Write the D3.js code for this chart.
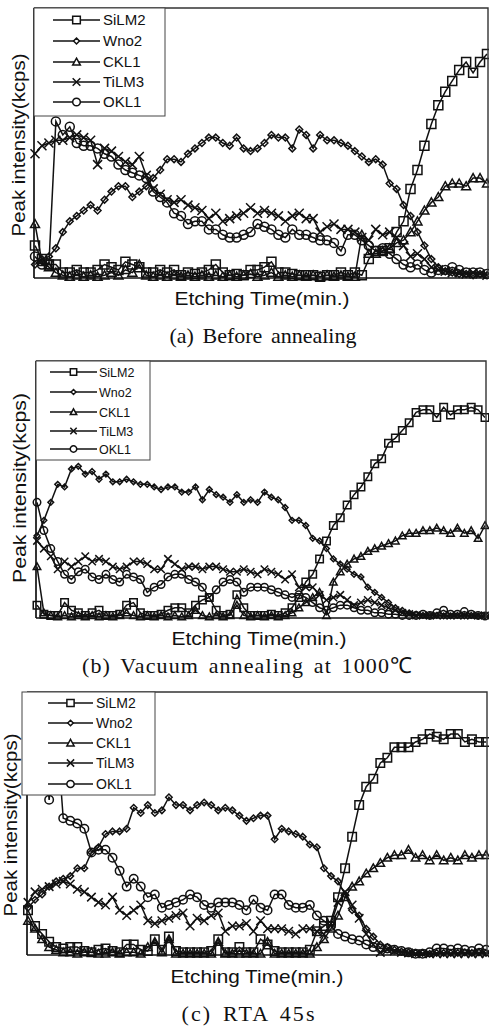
<!DOCTYPE html>
<html><head><meta charset="utf-8">
<script src="https://cdn.jsdelivr.net/npm/d3@7"></script>
<style>body{margin:0;background:#fff} svg{display:block}</style>
</head><body>
<svg id="chart" width="489" height="1027"></svg>
<script>
// ---------- data ----------
const seriesNames = ["SiLM2", "Wno2", "CKL1", "TiLM3", "OKL1"];
const markerTypes = ["square", "diamond", "triangle", "cross", "circle"];
const xLabel = "Etching Time(min.)";
const yLabel = "Peak intensity(kcps)";
const captions = ["(a) Before annealing", "(b) Vacuum annealing at 1000\u2103", "(c) RTA 45s"];

// (a) Before annealing
const a_SiLM2 = [12,7,5,5,2,2,3,2,2,3,5,4,3,6,5,4,2,2,3,2,3,1,2,1.5,2,3,5,2,1,1.5,1,3,3,4,6,2,2,1.5,1,1,1,0.5,1,1,2,1,2,1,7,10,10,11,17,21,33,40,49,57,64,69,73,77,80,76,80,83];
const a_Wno2  = [5,7,8,11,17,21,23,25,27,25,29,32,34,34,30,32,34,37,40,44,44,43,46,48,50,52,52,50,49,52,48,47,48,50,53,52,52,48,55,53,48,53,51,51,50,49,47,45,43,44,42,35,33,27,23,17,12,7,4,2.5,2,1.5,1.5,1,1.5,1];
const a_CKL1  = [20,6,4,2,1,0.5,1,0.5,1,0.5,1,2,1,3,2,5,1,0.5,1,0.5,1,0.5,1,0.5,1,0.5,1,0.5,1,0.5,1,1.5,0.5,1,2,0.5,1,0.5,1,0.5,1,0.5,1,0.5,1,0.5,0.5,16,9,9,10,11,13,14,17,21,25,28,30,34,35,35,34,37,37,35];
const a_TiLM3 = [46,49,50,51,51,52,53,52,51,42,48,47,45,43,42,45,38,33,31,29,28,29,27,26,25,22,24,21,22,23,24,26,24,25,24,23,21,23,24,22,22,17,19,20,18,18,17,15,14,18,16,17,15,12,8,9,7,4,3,2.5,2,2,1.5,2,1.5,1];
const a_OKL1  = [8,5,5,58,53,56,50,49,49,48,46,45,42,40,39,38,37,32,30,28,24,23,20,21,21,18,18,16,15,15,16,17,20,19,18,16,15,18,16,16,15,14,14,13,10,16,16,14,12,10,11,9,7,5,4,5,3,2,3,3,4,3,2,2,2,1.5];

// (b) Vacuum annealing at 1000C
const b_SiLM2 = [5,1.5,1,1,6,3,2,1,2,3,1,1,1.5,5,6,2,1,1,1.5,3,4,4,2,5,7,8,3,1,1.5,9,4,1,1,1,1.5,1,2,4,8,14,17,23,30,36,39,44,48,51,55,60,62,68,70,73,76,80,81,81,78,82,79,81,81,82,81,78];
const b_Wno2  = [32,38,45,52,51,58,59,56,57,54,56,53,53,54,53,52,52,51,50,51,51,49,49,51,46,50,48,47,45,48,45,46,45,49,47,46,43,38,38,36,31,30,27,23,21,19,17,16,12,10,8,6,4,3,2,1.5,1,1,1,0.8,0.8,1,0.8,1,0.8,0.8];
const b_CKL1  = [20,2,1,0.5,1,0.5,1,0.5,1,0.5,1,0.5,1,2,1,0.5,1,0.5,1,0.5,1,0.5,1,3,1,0.5,1,0.5,1,5,1,0.5,1,0.5,1,0.5,1,2,4,6,8,10,1,14,18,21,23,24,26,27,28,29,30,32,33,33,34,34,35,34,33,35,33,34,31,36];
const b_TiLM3 = [30,27,24,19,22,20,22,24,22,23,22,20,19,20,22,22,21,19,19,23,21,19,20,20,19,20,20,19,18,18,19,18,17,19,18,17,15,17,12,12,12,9,7,8,9,7,5,6,7,6,5,4,3,2,1.5,1,1,1,1,1,1,1,1,1,1,1];
const b_OKL1  = [45,34,27,22,17,15,18,19,16,15,17,15,14,17,16,15,10,12,13,16,17,17,15,14,12,8,11,14,15,14,10,12,12,12,11,10,9,8,9,8,6,4,3,4,5,5,4,3,3,2,2,1.5,1.5,1,1,1,1.5,1,2,3,1.5,1.5,2.5,1.5,1,0.8];

// (c) RTA 45s
const c_SiLM2 = [17,11,8,5,3,2.5,3,3,1.5,1,2,2.5,1.5,1,4,4,2,1.5,6,2,7,1.5,1,1,1,1,1.5,6,1,1,3,1,1,6,4,1.5,1,1,1,1,2,9,11,13,22,33,45,57,64,67,73,75,79,79,79,81,82,84,83,82,84,84,81,82,81,81];
const c_Wno2  = [18,21,23,26,28,29,30,33,33,39,41,46,47,47,48,56,54,57,54,55,60,57,57,55,57,58,57,55,56,55,53,51,52,53,53,44,48,47,46,45,42,41,33,30,28,23,17,15,10,7,4,3,2,1.3,1,0.8,0.8,0.5,0.8,0.8,0.8,0.8,1,0.8,1,0.8];
const c_CKL1  = [13,10,6,3,2,1,1,0.5,1,1,0.5,0.5,1,0.5,1,1,0.5,3,5,1,6,0.5,0.5,0.5,0.5,0.5,0.5,5,0.5,0.5,0.5,0.5,0.5,0.5,5,0.5,0.5,0.5,0.5,0.5,0.5,3,6,10,15,22,26,28,31,33,35,37,38,38,40,37,38,36,38,36,37,36,38,37,38,38];
const c_TiLM3 = [20,24,25,26,27,28,27,25,24,22,20,19,22,17,15,17,19,13,12,13,14,15,16,11,14,13,15,16,9,11,11,12,9,13,10,10,10,9,8,10,10,9,8,12,20,24,19,14,8,4,1,2,1.5,1,0.8,0.5,0.5,0.5,0.5,0.5,0.5,0.5,0.5,0.5,0.5,0.5];
const c_OKL1  = [88,92,90,59,88,52,51,50,48,39,40,40,37,32,26,29,26,22,23,18,19,20,21,23,22,19,18,20,20,20,19,17,21,18,17,23,23,19,18,18,19,15,13,11,8,7,6,5.5,4,3,2.5,2.5,2,1.5,1,0.5,0.5,1,2.5,2.5,2,2.5,2,1.5,2.5,2];

const panelData = [
  [a_SiLM2, a_Wno2, a_CKL1, a_TiLM3, a_OKL1],
  [b_SiLM2, b_Wno2, b_CKL1, b_TiLM3, b_OKL1],
  [c_SiLM2, c_Wno2, c_CKL1, c_TiLM3, c_OKL1]
];

// ---------- layout ----------
const layout = [
  {left:34, right:488, top:8, bottom:278, ms:9,
   leg:{x:34, y:8, w:131, h:108, rows:[20,41,62,82,102], lx1:53, lx2:100, tx:103, fs:15},
   yl:{x:19, cy:145, len:183}, xl:{cx:262, y:305, len:175},
   cap:{cx:263, y:343, len:187}},
  {left:36, right:486, top:361, bottom:618, ms:7.5,
   leg:{x:36, y:361, w:114, h:99, rows:[372,392,412,431,449], lx1:50, lx2:97, tx:99, fs:12.5},
   yl:{x:20, cy:488, len:190}, xl:{cx:259, y:645, len:175},
   cap:{cx:247, y:673, len:330}},
  {left:27, right:487, top:692, bottom:955, ms:8.5,
   leg:{x:22, y:692, w:133, h:103, rows:[703,723,743,763,784], lx1:48, lx2:93, tx:96, fs:14},
   yl:{x:11, cy:825, len:183}, xl:{cx:257, y:983, len:173},
   cap:{cx:248, y:1021, len:133}}
];

const svg = d3.select("#chart");
const ink = "#111";
const sw = 1.5;

function markerPath(type, s) {
  const h = s / 2;
  switch (type) {
    case "square": return `M${-h},${-h}H${h}V${h}H${-h}Z`;
    case "diamond": { const d = s * 0.38; return `M0,${-d}L${d},0L0,${d}L${-d},0Z`; }
    case "triangle": return `M0,${-h}L${h},${h*0.8}L${-h},${h*0.8}Z`;
    case "cross": return `M${-h},${-h}L${h},${h}M${h},${-h}L${-h},${h}`;
    case "circle": return d3.arc()({innerRadius:0, outerRadius:h, startAngle:0, endAngle:2*Math.PI});
  }
}

layout.forEach((L, p) => {
  const data = panelData[p];
  const n = data[0].length;
  const x = d3.scaleLinear().domain([0, n - 1]).range([L.left + 1, L.right - 1]);
  const y = d3.scaleLinear().domain([0, 100]).range([L.bottom, L.top]);
  const g = svg.append("g");
  const clipId = "clip" + p;
  svg.append("clipPath").attr("id", clipId).append("rect")
    .attr("x", L.left - 6).attr("y", L.top).attr("width", L.right - L.left + 12).attr("height", L.bottom - L.top + 6);
  const plot = g.append("g").attr("clip-path", `url(#${clipId})`);

  const line = d3.line().x((d, i) => x(i)).y(d => y(d));
  data.forEach((vals, s) => {
    const sg = plot.append("g");
    sg.append("path").attr("d", line(vals)).attr("fill", "none")
      .attr("stroke", ink).attr("stroke-width", sw);
    sg.selectAll("path.m").data(vals).join("path").attr("class", "m")
      .attr("transform", (d, i) => `translate(${x(i)},${y(d)})`)
      .attr("d", markerPath(markerTypes[s], L.ms))
      .attr("fill", "none").attr("stroke", ink).attr("stroke-width", sw);
  });

  // axes (no ticks) as frame
  const xAxis = d3.axisBottom(x).tickValues([]).tickSizeOuter(0);
  const yAxis = d3.axisLeft(y).tickValues([]).tickSizeOuter(0);
  g.append("g").attr("transform", `translate(0,${L.bottom})`).call(xAxis)
    .select(".domain").attr("stroke", ink).attr("stroke-width", 1.7).attr("d", `M${L.left},0H${L.right}`);
  g.append("g").attr("transform", `translate(${L.left},0)`).call(yAxis)
    .select(".domain").attr("stroke", ink).attr("stroke-width", 1.7).attr("d", `M0,${L.top}V${L.bottom}`);
  g.append("path").attr("d", `M${L.left},${L.top}H${L.right}V${L.bottom}`)
    .attr("fill", "none").attr("stroke", "#333").attr("stroke-width", 1.4);

  // legend
  const lg = g.append("g");
  lg.append("rect").attr("x", L.leg.x).attr("y", L.leg.y).attr("width", L.leg.w).attr("height", L.leg.h)
    .attr("fill", "#fff").attr("stroke", "#444").attr("stroke-width", 1);
  seriesNames.forEach((name, s) => {
    const ry = L.leg.rows[s];
    lg.append("line").attr("x1", L.leg.lx1).attr("x2", L.leg.lx2).attr("y1", ry).attr("y2", ry)
      .attr("stroke", ink).attr("stroke-width", sw);
    lg.append("path").attr("transform", `translate(${(L.leg.lx1 + L.leg.lx2) / 2},${ry})`)
      .attr("d", markerPath(markerTypes[s], L.ms * 0.85))
      .attr("fill", "#fff").attr("stroke", ink).attr("stroke-width", sw);
    lg.append("text").attr("x", L.leg.tx).attr("y", ry).attr("dy", "0.36em")
      .attr("font-family", "Liberation Sans, Arial, sans-serif").attr("font-size", L.leg.fs)
      .attr("fill", ink).text(name);
  });

  // axis labels
  g.append("text").attr("transform", `translate(${L.yl.x + 6},${L.yl.cy}) rotate(-90)`)
    .attr("text-anchor", "middle").attr("font-family", "Liberation Sans, Arial, sans-serif")
    .attr("font-size", 18).attr("fill", ink)
    .attr("textLength", L.yl.len).attr("lengthAdjust", "spacingAndGlyphs").text(yLabel);
  g.append("text").attr("x", L.xl.cx).attr("y", L.xl.y).attr("text-anchor", "middle")
    .attr("font-family", "Liberation Sans, Arial, sans-serif").attr("font-size", 19).attr("fill", ink)
    .attr("textLength", L.xl.len).attr("lengthAdjust", "spacingAndGlyphs").text(xLabel);

  // caption
  g.append("text").attr("x", L.cap.cx).attr("y", L.cap.y).attr("text-anchor", "middle")
    .attr("font-family", "Liberation Serif, Times New Roman, serif").attr("font-size", 22)
    .attr("word-spacing", 3).attr("fill", ink)
    .attr("textLength", L.cap.len).attr("lengthAdjust", "spacing").text(captions[p]);
});
</script>
</body></html>
